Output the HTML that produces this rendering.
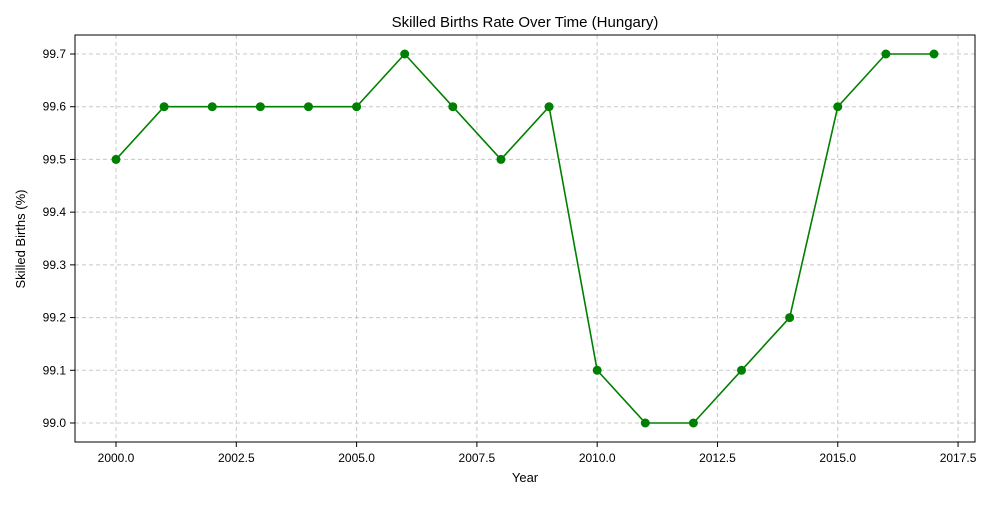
<!DOCTYPE html>
<html><head><meta charset="utf-8"><style>
body{margin:0;background:#fff;}
svg text{font-family:"Liberation Sans","DejaVu Sans",sans-serif;fill:#000;}
</style></head><body>
<svg id="chart" width="1000" height="500" xmlns="http://www.w3.org/2000/svg">
<rect x="0" y="0" width="1000" height="500" fill="#fff"/>
<text x="525" y="27" font-size="15" text-anchor="middle">Skilled Births Rate Over Time (Hungary)</text>
<g id="grid"></g>
<g id="axes"></g>
<g id="series"></g>
<rect x="75" y="35" width="900" height="407" fill="none" stroke="#000" stroke-width="1"/>
<text x="525" y="482" font-size="13" text-anchor="middle">Year</text>
<text x="25" y="239" font-size="13" text-anchor="middle" transform="rotate(-90 25 239)">Skilled Births (%)</text>
</svg>
<script>
const years=[2000,2001,2002,2003,2004,2005,2006,2007,2008,2009,2010,2011,2012,2013,2014,2015,2016,2017];
const values=[99.5,99.6,99.6,99.6,99.6,99.6,99.7,99.6,99.5,99.6,99.1,99.0,99.0,99.1,99.2,99.6,99.7,99.7];
const xTicks=[2000,2002.5,2005,2007.5,2010,2012.5,2015,2017.5];
const yTicks=[99.0,99.1,99.2,99.3,99.4,99.5,99.6,99.7];
const NS="http://www.w3.org/2000/svg";
const xs=v=>116+(v-2000)*(818/17);
const ys=v=>423-(v-99.0)*(369/0.7);
const grid=document.getElementById('grid'),axes=document.getElementById('axes'),ser=document.getElementById('series');
function mk(t,a,p){const e=document.createElementNS(NS,t);for(const k in a)e.setAttribute(k,a[k]);p.appendChild(e);return e;}
xTicks.forEach(t=>{const x=xs(t);
const g=mk('line',{x1:x,x2:x,y1:35,y2:442,stroke:'#c8c8c8','stroke-dasharray':'4,3'},grid);


const tk=mk('line',{x1:x,x2:x,y1:442,y2:447,stroke:'#000'},axes);


const l=mk('text',{x:x,y:462,'font-size':12,'text-anchor':'middle'},axes);l.textContent=t.toFixed(1);

});
yTicks.forEach(t=>{const y=ys(t);
const g=mk('line',{x1:75,x2:975,y1:y,y2:y,stroke:'#c8c8c8','stroke-dasharray':'4,3'},grid);


const tk=mk('line',{x1:70,x2:75,y1:y,y2:y,stroke:'#000'},axes);


const l=mk('text',{x:66,y:y+4,'font-size':12,'text-anchor':'end'},axes);l.textContent=t.toFixed(1);

});
const pl=mk('polyline',{points:years.map((y,i)=>xs(y)+','+ys(values[i])).join(' '),fill:'none',stroke:'#008000','stroke-width':1.6},ser);


years.forEach((y,i)=>{const c=mk('circle',{cx:xs(y),cy:ys(values[i]),r:4.5,fill:'#008000'},ser);

});
</script>
</body></html>
